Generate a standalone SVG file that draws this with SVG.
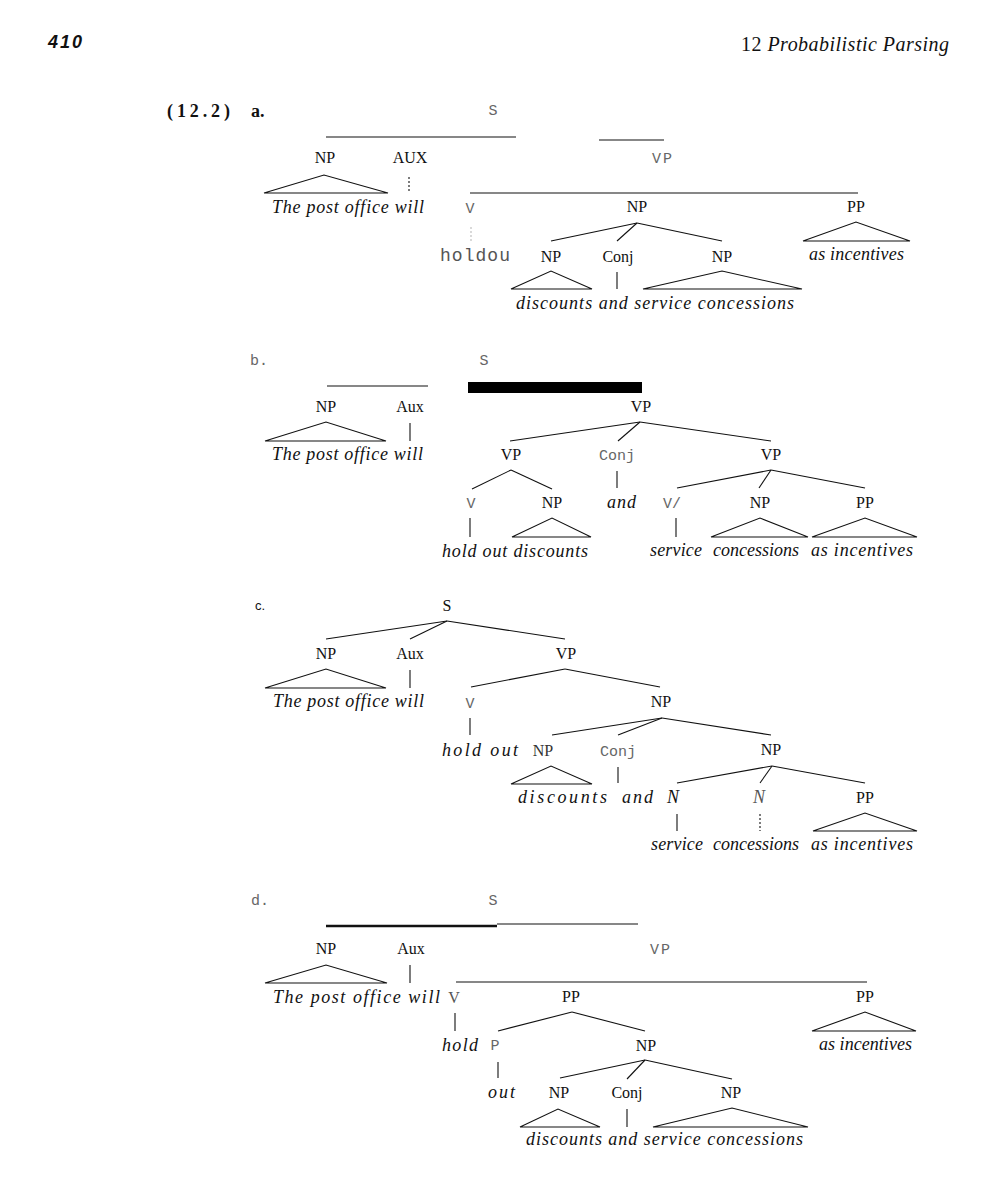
<svg xmlns="http://www.w3.org/2000/svg" width="1006" height="1181" viewBox="0 0 1006 1181">
<style>
.s{font-family:"Liberation Serif","Times New Roman",serif;font-size:16px;fill:#111;text-anchor:middle}
.i{font-family:"Liberation Serif","Times New Roman",serif;font-style:italic;font-size:18px;fill:#111}
.m{font-family:"Liberation Mono","Courier New",monospace;font-size:15px;fill:#666;text-anchor:middle}
.g{fill:#555}
.c line,.c polygon,.c polyline{stroke:#111;stroke-width:1.1;fill:none}
.dot{stroke-dasharray:2 2}
</style>
<rect width="1006" height="1181" fill="#fff"/>
<g id="header">
<text x="48" y="48" font-family="Liberation Sans,Arial,sans-serif" font-weight="bold" font-style="italic" font-size="18" textLength="34" lengthAdjust="spacing" fill="#111">410</text>
<text x="741" y="51" font-family="Liberation Serif,serif" font-size="20" textLength="208" lengthAdjust="spacing" fill="#111">12 <tspan font-style="italic">Probabilistic Parsing</tspan></text>
</g>

<!-- Tree a -->
<g id="tree-a">
<text x="167" y="117" font-family="Liberation Serif,serif" font-weight="bold" font-size="18" textLength="63" fill="#111">(12.2)</text>
<text x="251" y="117" font-family="Liberation Serif,serif" font-weight="bold" font-size="18" fill="#111">a.</text>
<g id="a-S"><text class="m" x="493" y="115">S</text></g>
<g id="a-NP"><text class="s" x="325" y="163">NP</text></g>
<g id="a-AUX"><text class="s" x="410" y="163">AUX</text></g>
<g id="a-VP"><text class="m" x="663" y="163" letter-spacing="2">VP</text></g>
<g id="a-NPw"><text class="i" x="272" y="213" textLength="152" lengthAdjust="spacing">The post office will</text></g>
<g id="a-V"><text class="m" x="470" y="213">V</text></g>
<g id="a-NP2"><text class="s" x="637" y="212">NP</text></g>
<g id="a-PP"><text class="s" x="856" y="212">PP</text></g>
<g id="a-holdou"><text x="440" y="261" font-family="Liberation Mono,monospace" font-size="18" textLength="70" fill="#555">holdou</text></g>
<g id="a-NP3"><text class="s" x="551" y="262">NP</text></g>
<g id="a-Conj"><text class="s" x="618" y="262">Conj</text></g>
<g id="a-NP4"><text class="s" x="722" y="262">NP</text></g>
<g id="a-asinc"><text class="i" x="809" y="260" textLength="95" lengthAdjust="spacing">as incentives</text></g>
<g id="a-words"><text class="i" x="516" y="309" textLength="278" lengthAdjust="spacing">discounts and service concessions</text></g>
</g>
<g id="conn-a" class="c">
<line x1="326" y1="137" x2="516" y2="137"/>
<line x1="599" y1="140" x2="664" y2="140"/>
<line x1="470" y1="193" x2="858" y2="193"/>
<polygon points="264,193 324,175 388,193"/>
<line class="dot" x1="409" y1="177" x2="409" y2="192"/>
<line class="dot" x1="471" y1="227" x2="471" y2="242" style="stroke:#bbb"/>
<polygon points="803,241 856,222 910,241"/>
<line x1="637" y1="223" x2="551" y2="241"/>
<line x1="637" y1="223" x2="617" y2="241"/>
<line x1="637" y1="223" x2="722" y2="241"/>
<polygon points="511,289 551,271 592,289"/>
<line x1="617" y1="272" x2="617" y2="289"/>
<polygon points="643,289 722,271 802,289"/>
</g>

<!-- Tree b -->
<g id="tree-b">
<text class="m" x="259" y="365" font-size="14">b.</text>
<g id="b-S"><text class="m" x="484" y="365">S</text></g>
<g id="b-NP"><text class="s" x="326" y="412">NP</text></g>
<g id="b-Aux"><text class="s" x="410" y="412">Aux</text></g>
<g id="b-VP"><text class="s" x="641" y="412">VP</text></g>
<g id="b-NPw"><text class="i" x="272" y="460" textLength="151" lengthAdjust="spacing">The post office will</text></g>
<g id="b-VP1"><text class="s" x="511" y="460">VP</text></g>
<g id="b-Conj"><text class="m" x="617" y="460">Conj</text></g>
<g id="b-VP2"><text class="s" x="771" y="460">VP</text></g>
<g id="b-V"><text class="m" x="471" y="508">V</text></g>
<g id="b-NP1"><text class="s" x="552" y="508">NP</text></g>
<g id="b-and"><text class="i" x="607" y="508" textLength="29">and</text></g>
<g id="b-V2"><text class="m" x="672" y="508">V/</text></g>
<g id="b-NP2"><text class="s" x="760" y="508">NP</text></g>
<g id="b-PP"><text class="s" x="865" y="508">PP</text></g>
<g id="b-w1"><text class="i" x="442" y="557" textLength="146" lengthAdjust="spacing">hold out discounts</text></g>
<g id="b-w2"><text class="i" x="650" y="556" textLength="52">service</text></g>
<g id="b-w3"><text class="i" x="713" y="556" textLength="86">concessions</text></g>
<g id="b-w4"><text class="i" x="811" y="556" textLength="102" lengthAdjust="spacing">as incentives</text></g>
</g>
<g id="conn-b" class="c">
<line x1="327" y1="386" x2="428" y2="386"/>
<rect x="468" y="382" width="174" height="11" fill="#000" stroke="none"/>
<polygon points="265,441 326,422 386,441"/>
<line x1="410" y1="423" x2="410" y2="441"/>
<line x1="640" y1="422" x2="510" y2="441"/>
<line x1="640" y1="422" x2="618" y2="441"/>
<line x1="640" y1="422" x2="771" y2="441"/>
<line x1="511" y1="470" x2="472" y2="489"/>
<line x1="511" y1="470" x2="552" y2="489"/>
<line x1="470" y1="518" x2="470" y2="537"/>
<polygon points="512,537 552,518 591,537"/>
<line x1="617" y1="471" x2="617" y2="488"/>
<line x1="771" y1="470" x2="677" y2="488"/>
<line x1="771" y1="470" x2="759" y2="488"/>
<line x1="771" y1="470" x2="865" y2="488"/>
<line x1="676" y1="518" x2="676" y2="537"/>
<polygon points="711,537 760,518 808,537"/>
<polygon points="812,537 865,518 917,537"/>
</g>

<!-- Tree c -->
<g id="tree-c">
<text x="255" y="610" font-family="Liberation Sans,Arial,sans-serif" font-size="13" fill="#111">c.</text>
<g id="c-S"><text class="s" x="447" y="611">S</text></g>
<g id="c-NP"><text class="s" x="326" y="659">NP</text></g>
<g id="c-Aux"><text class="s" x="410" y="659">Aux</text></g>
<g id="c-VP"><text class="s" x="566" y="659">VP</text></g>
<g id="c-NPw"><text class="i" x="273" y="707" textLength="151" lengthAdjust="spacing">The post office will</text></g>
<g id="c-V"><text class="m" x="470" y="708">V</text></g>
<g id="c-NP2"><text class="s" x="661" y="707">NP</text></g>
<g id="c-holdout"><text class="i" x="442" y="756" textLength="76" lengthAdjust="spacing">hold out</text></g>
<g id="c-NP3"><text class="s" x="543" y="756" style="fill:#333">NP</text></g>
<g id="c-Conj"><text class="m" x="618" y="756">Conj</text></g>
<g id="c-NP4"><text class="s" x="771" y="755">NP</text></g>
<g id="c-disc"><text class="i" x="518" y="803" textLength="89" lengthAdjust="spacing">discounts</text></g>
<g id="c-and"><text class="i" x="622" y="803" textLength="31" lengthAdjust="spacing">and</text></g>
<g id="c-N1"><text class="i" x="673" y="803" text-anchor="middle">N</text></g>
<g id="c-N2"><text class="i g" x="759" y="803" text-anchor="middle">N</text></g>
<g id="c-PP"><text class="s" x="865" y="803">PP</text></g>
<g id="c-w2"><text class="i" x="651" y="850" textLength="52">service</text></g>
<g id="c-w3"><text class="i" x="713" y="850" textLength="86">concessions</text></g>
<g id="c-w4"><text class="i" x="811" y="850" textLength="102" lengthAdjust="spacing">as incentives</text></g>
</g>
<g id="conn-c" class="c">
<line x1="447" y1="621" x2="326" y2="639"/>
<line x1="447" y1="621" x2="410" y2="639"/>
<line x1="447" y1="621" x2="565" y2="639"/>
<polygon points="265,688 326,669 386,688"/>
<line x1="410" y1="670" x2="410" y2="688"/>
<line x1="565" y1="669" x2="471" y2="687"/>
<line x1="565" y1="669" x2="660" y2="687"/>
<line x1="470" y1="718" x2="470" y2="735"/>
<line x1="662" y1="718" x2="552" y2="735"/>
<line x1="662" y1="718" x2="618" y2="735"/>
<line x1="662" y1="718" x2="771" y2="735"/>
<polygon points="511,784 551,766 592,784"/>
<line x1="618" y1="767" x2="618" y2="783"/>
<line x1="772" y1="766" x2="677" y2="783"/>
<line x1="772" y1="766" x2="760" y2="783"/>
<line x1="772" y1="766" x2="865" y2="783"/>
<line x1="677" y1="814" x2="677" y2="831"/>
<line class="dot" x1="760" y1="814" x2="760" y2="831"/>
<polygon points="813,831 865,813 917,831"/>
</g>

<!-- Tree d -->
<g id="tree-d">
<text class="m" x="260" y="905" font-size="14">d.</text>
<g id="d-S"><text class="m" x="493" y="905">S</text></g>
<g id="d-NP"><text class="s" x="326" y="954">NP</text></g>
<g id="d-Aux"><text class="s" x="411" y="954">Aux</text></g>
<g id="d-VP"><text class="m" x="661" y="954" letter-spacing="2">VP</text></g>
<g id="d-NPw"><text class="i" x="273" y="1003" textLength="167" lengthAdjust="spacing">The post office will</text></g>
<g id="d-V"><text class="s" x="454" y="1003" style="fill:#555">V</text></g>
<g id="d-PP1"><text class="s" x="571" y="1002">PP</text></g>
<g id="d-PP2"><text class="s" x="865" y="1002">PP</text></g>
<g id="d-asinc"><text class="i" x="819" y="1050" textLength="93" lengthAdjust="spacing">as incentives</text></g>
<g id="d-hold"><text class="i" x="442" y="1051" textLength="36">hold</text></g>
<g id="d-P"><text class="m" x="495" y="1050">P</text></g>
<g id="d-NP2"><text class="s" x="646" y="1051">NP</text></g>
<g id="d-out"><text class="i" x="488" y="1098" textLength="27">out</text></g>
<g id="d-NP3"><text class="s" x="559" y="1098">NP</text></g>
<g id="d-Conj"><text class="s" x="627" y="1098">Conj</text></g>
<g id="d-NP4"><text class="s" x="731" y="1098">NP</text></g>
<g id="d-words"><text class="i" x="526" y="1145" textLength="277" lengthAdjust="spacing">discounts and service concessions</text></g>
</g>
<g id="conn-d" class="c">
<line x1="326" y1="926" x2="497" y2="926" style="stroke-width:2.6"/>
<line x1="497" y1="924" x2="638" y2="924"/>
<polygon points="265,983 326,965 387,983"/>
<line x1="410" y1="965" x2="410" y2="983"/>
<line x1="456" y1="982" x2="867" y2="982"/>
<polygon points="812,1031 865,1012 916,1031"/>
<line x1="455" y1="1013" x2="455" y2="1031"/>
<line x1="572" y1="1012" x2="498" y2="1031"/>
<line x1="572" y1="1012" x2="645" y2="1031"/>
<line x1="498" y1="1062" x2="498" y2="1078"/>
<line x1="645" y1="1060" x2="560" y2="1078"/>
<line x1="645" y1="1060" x2="627" y2="1079"/>
<line x1="645" y1="1060" x2="732" y2="1079"/>
<polygon points="520,1127 558,1109 600,1127"/>
<line x1="627" y1="1109" x2="627" y2="1127"/>
<polygon points="653,1127 732,1108 808,1127"/>
</g>
</svg>
